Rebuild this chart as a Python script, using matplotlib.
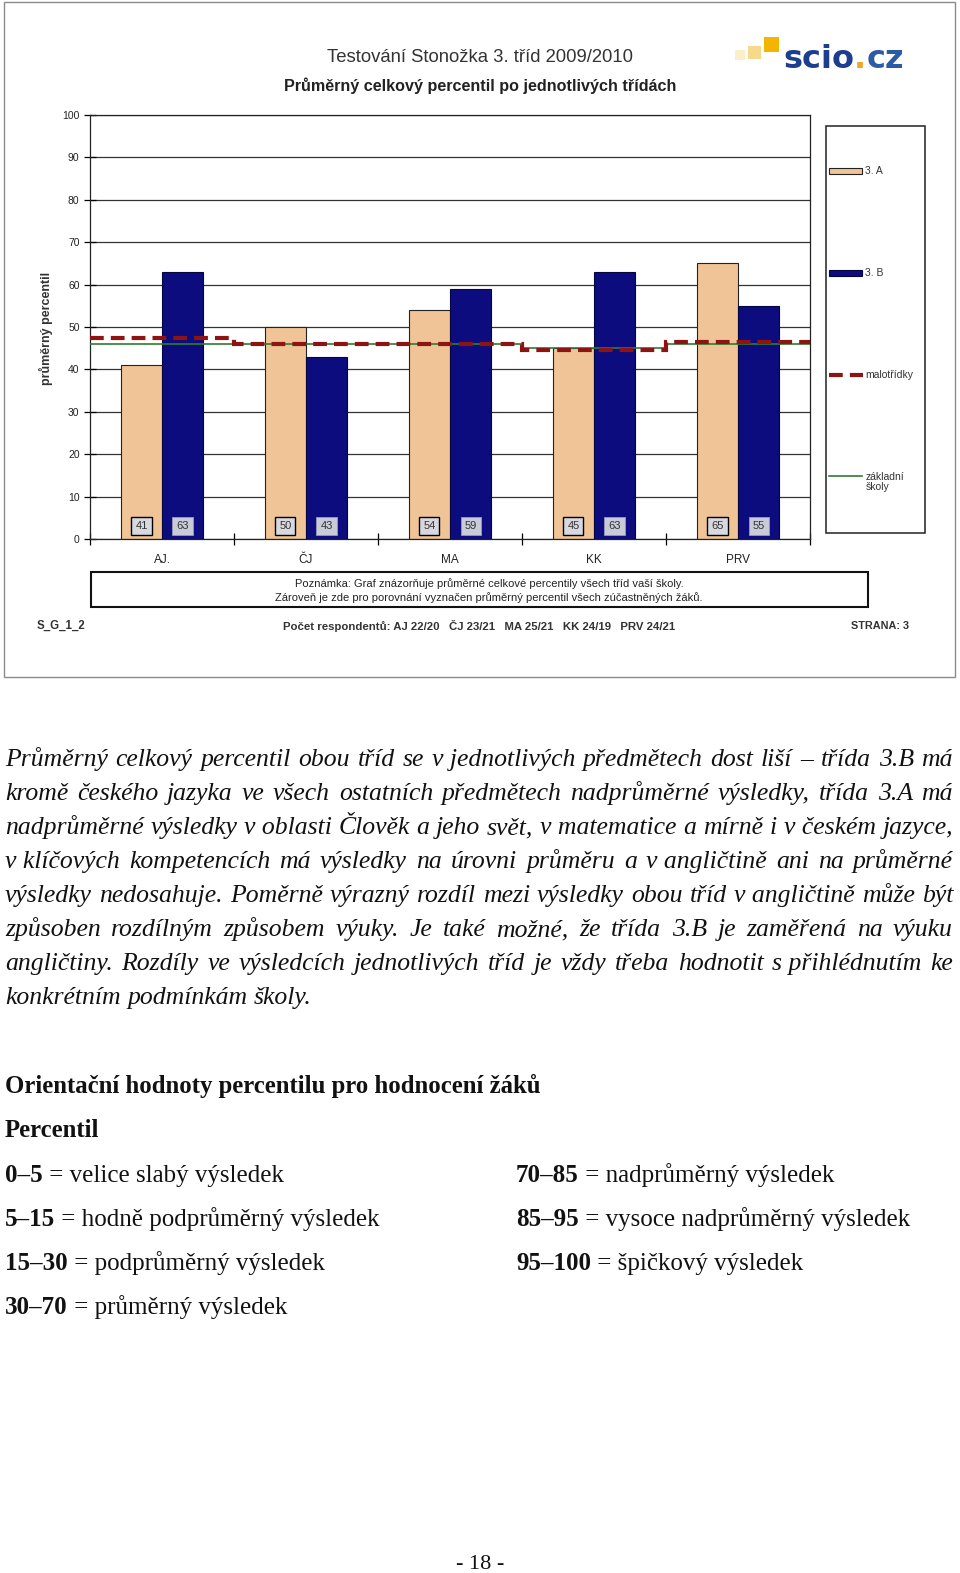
import numpy as np
import matplotlib
matplotlib.use('Agg')
import matplotlib.pyplot as plt
from matplotlib.patches import Rectangle
from matplotlib.lines import Line2D

# Daten aus dem Diagramm
subjects = ['AJ.', 'ČJ', 'MA', 'KK', 'PRV']
class_a = [41, 50, 54, 45, 65]
class_b = [63, 43, 59, 63, 55]
malotridky = [47.5, 46, 46, 44.5, 46.5]
zakladni = [46, 46, 46, 45, 46]
yticks = [0, 10, 20, 30, 40, 50, 60, 70, 80, 90, 100]

title1 = 'Testování Stonožka 3. tříd 2009/2010'
title2 = 'Průměrný celkový percentil po jednotlivých třídách'
note1 = 'Poznámka: Graf znázorňuje průměrné celkové percentily všech tříd vaší školy.'
note2 = 'Zároveň je zde pro porovnání vyznačen průměrný percentil všech zúčastněných žáků.'
respondents = 'Počet respondentů: AJ 22/20   ČJ 23/21   MA 25/21   KK 24/19   PRV 24/21'

paragraph = [
    'Průměrný celkový percentil obou tříd se v\u00a0jednotlivých předmětech dost liší – třída 3.B má',
    'kromě českého jazyka ve všech ostatních předmětech nadprůměrné výsledky, třída 3.A má',
    'nadprůměrné výsledky v\u00a0oblasti Člověk a jeho svět, v\u00a0matematice a mírně i v\u00a0českém jazyce,',
    'v\u00a0klíčových kompetencích má výsledky na úrovni průměru a v\u00a0angličtině ani na průměrné',
    'výsledky nedosahuje. Poměrně výrazný rozdíl mezi výsledky obou tříd v\u00a0angličtině může být',
    'způsoben rozdílným způsobem výuky. Je také možné, že třída 3.B je zaměřená na výuku',
    'angličtiny. Rozdíly ve výsledcích jednotlivých tříd je vždy třeba hodnotit s\u00a0přihlédnutím ke',
    'konkrétním podmínkám školy.',
]
ranges_left = [('0–5', ' = velice slabý výsledek'),
               ('5–15', ' = hodně podprůměrný výsledek'),
               ('15–30', ' = podprůměrný výsledek'),
               ('30–70', ' = průměrný výsledek')]
ranges_right = [('70–85', ' = nadprůměrný výsledek'),
                ('85–95', ' = vysoce nadprůměrný výsledek'),
                ('95–100', ' = špičkový výsledek')]

col_a = '#f0c496'
col_b = '#0c0c7e'
col_mal = '#8e1414'
col_zs = '#2e7d32'
sans = 'Liberation Sans'
serif = 'Liberation Serif'

W, H = 960, 1573
fig = plt.figure(figsize=(W / 100, H / 100), dpi=100)

# Seite in Pixelkoordinaten
page = fig.add_axes([0, 0, 1, 1])
page.set_xlim(0, W)
page.set_ylim(H, 0)
page.axis('off')

# Rahmen um das Diagramm
page.add_patch(Rectangle((4, 2), 951, 675, fill=False, ec='#8a8a8a', lw=1))

# Diagramm
ax = fig.add_axes([90 / W, 1 - 539 / H, 720 / W, 424 / H])
x = np.arange(len(subjects))
bw = 0.285
ax.bar(x + 0.5 - bw / 2, class_a, bw, color=col_a, ec='#222222', lw=0.8, zorder=2)
ax.bar(x + 0.5 + bw / 2, class_b, bw, color=col_b, ec='#050540', lw=0.8, zorder=2)
ax.stairs(zakladni, np.arange(len(subjects) + 1), baseline=None, color=col_zs, lw=1.2, zorder=3)
ax.stairs(malotridky, np.arange(len(subjects) + 1), baseline=None, color=col_mal, lw=3,
          ls=(0, (3.3, 1.7)), zorder=4)
for i in range(len(subjects)):
    ax.text(i + 0.5 - bw / 2, 3.0, str(class_a[i]), ha='center', va='center', fontsize=8,
            family=sans, color='#333333', zorder=5,
            bbox=dict(boxstyle='square,pad=0.35', fc='#d8d8e0', ec='black', lw=1))
    ax.text(i + 0.5 + bw / 2, 3.0, str(class_b[i]), ha='center', va='center', fontsize=8,
            family=sans, color='#333333', zorder=5,
            bbox=dict(boxstyle='square,pad=0.35', fc='#c9cbd8', ec='#9a9ab0', lw=0.6))
ax.set_xlim(0, len(subjects))
ax.set_ylim(0, 100)
ax.set_yticks(yticks)
ax.set_yticklabels([str(v) for v in yticks], fontsize=7.5, family=sans, color='#222222')
ax.yaxis.grid(True, color='#333333', lw=0.9, zorder=0)
ax.set_axisbelow(True)
ax.tick_params(axis='y', direction='inout', length=9, width=0.9, pad=3)
ax.set_xticks(x + 0.5)
ax.set_xticklabels(subjects, fontsize=8.5, family=sans, color='#222222')
ax.set_xticks(np.arange(len(subjects) + 1), minor=True)
ax.tick_params(axis='x', which='major', length=0, pad=11)
ax.tick_params(axis='x', which='minor', direction='inout', length=9, width=0.9)
for s in ax.spines.values():
    s.set_color('#222222')
    s.set_linewidth(0.9)

# Titel
page.text(480, 58, title1, ha='center', va='center', fontsize=13.3, family=sans, color='#333333')
page.text(480, 86, title2, ha='center', va='center', fontsize=11.6, family=sans, color='#222222',
          weight='bold')
page.text(46, 328, 'průměrný percentil', ha='center', va='center', rotation=90, fontsize=9,
          family=sans, color='#333333', weight='bold')

# Logo
page.add_patch(Rectangle((764, 37), 15, 15, color='#f4b400', lw=0))
page.add_patch(Rectangle((748, 46), 13, 13, color='#f6d98a', lw=0))
page.add_patch(Rectangle((735, 50), 10, 10, color='#fbeec8', lw=0))
lt = page.text(783, 68, 'scio', ha='left', va='baseline', fontsize=23, family='DejaVu Sans',
               weight='bold', color='#1d3d8f')
r = fig.canvas.get_renderer()
xe = 783 + lt.get_window_extent(r).width
dt = page.text(xe, 68, '.', ha='left', va='baseline', fontsize=23, family='DejaVu Sans',
               weight='bold', color='#f0a52a')
xe += dt.get_window_extent(r).width
page.text(xe, 68, 'cz', ha='left', va='baseline', fontsize=23, family='DejaVu Sans',
          weight='bold', color='#2b5aa6')

# Legende
page.add_patch(Rectangle((826, 126), 99, 407, fill=False, ec='#222222', lw=1.1))
page.add_patch(Rectangle((829, 168), 33, 6, fc=col_a, ec='#222222', lw=0.8))
page.text(865, 171, '3. A', va='center', fontsize=7.5, family=sans, color='#333333')
page.add_patch(Rectangle((829, 270), 33, 6, fc=col_b, ec='#050540', lw=0.8))
page.text(865, 273, '3. B', va='center', fontsize=7.5, family=sans, color='#333333')
page.add_line(Line2D([829, 863], [375, 375], color=col_mal, lw=3, ls=(0, (3.3, 1.7))))
page.text(865, 375, 'malotřídky', va='center', fontsize=7.5, family=sans, color='#333333')
page.add_line(Line2D([829, 862], [476, 476], color=col_zs, lw=1.2))
page.text(866, 482, 'základní\nškoly', va='center', fontsize=7.5, family=sans, color='#333333',
          linespacing=1.1)

# Poznámka und Fußzeile
page.add_patch(Rectangle((91, 572), 777, 35, fill=False, ec='#111111', lw=1.5))
page.text(489, 584, note1, ha='center', va='center', fontsize=8, family=sans, color='#222222')
page.text(489, 598, note2, ha='center', va='center', fontsize=8, family=sans, color='#222222')
page.text(37, 626, 'S_G_1_2', va='center', fontsize=8.3, family=sans, weight='bold', color='#333333')
page.text(283, 626, respondents, va='center', fontsize=8.2, family=sans, weight='bold',
          color='#333333')
page.text(909, 626, 'STRANA: 3', ha='right', va='center', fontsize=7.8, family=sans,
          weight='bold', color='#333333')

# Absatz im Blocksatz
x0, x1 = 5, 953
psize = 18.5
for k, line in enumerate(paragraph):
    y = 766 + 34 * k
    words = line.split(' ')
    objs = [page.text(0, y, w, va='baseline', fontsize=psize, family=serif, style='italic',
                      color='#111111') for w in words]
    widths = [o.get_window_extent(r).width for o in objs]
    if k == len(paragraph) - 1:
        sp = page.text(0, 0, 'a a', fontsize=psize, family=serif, style='italic')
        sa = page.text(0, 0, 'aa', fontsize=psize, family=serif, style='italic')
        gap = sp.get_window_extent(r).width - sa.get_window_extent(r).width
        sp.remove()
        sa.remove()
    else:
        gap = (x1 - x0 - sum(widths)) / (len(words) - 1)
    xp = x0
    for o, w in zip(objs, widths):
        o.set_x(xp)
        xp += w + gap

page.text(5, 1093, 'Orientační hodnoty percentilu pro hodnocení žáků', va='baseline',
          fontsize=17.8, family=serif, weight='bold', color='#111111')
page.text(5, 1137, 'Percentil', va='baseline', fontsize=17.8, family=serif, weight='bold',
          color='#111111')


def range_item(xp, y, bold, rest):
    b = page.text(xp, y, bold, va='baseline', fontsize=18, family=serif, weight='bold',
                  color='#111111')
    wb = b.get_window_extent(r).width
    page.text(xp + wb, y, rest, va='baseline', fontsize=18, family=serif, color='#111111')


for k, (b, t) in enumerate(ranges_left):
    range_item(5, 1182 + 44 * k, b, t)
for k, (b, t) in enumerate(ranges_right):
    range_item(516, 1182 + 44 * k, b, t)

page.text(480, 1569, '- 18 -', ha='center', va='baseline', fontsize=16, family=serif,
          color='#111111')

fig.savefig('out.png', dpi=100)
